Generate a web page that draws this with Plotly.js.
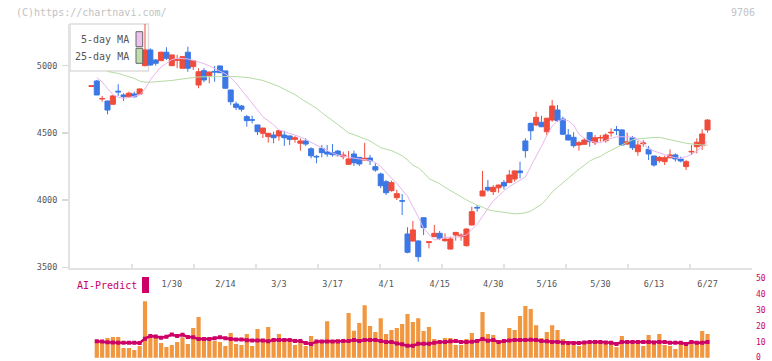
<!DOCTYPE html>
<html><head><meta charset="utf-8">
<script src="https://cdn.plot.ly/plotly-3.0.1.min.js"></script>
<style>html,body{margin:0;padding:0;background:#fff;}#c{width:772px;height:361px;}</style>
</head><body><div id="c"></div>
<script>
// ---- data ----
const openP = [4845,4886,4752,4737,4713,4810,4782,4769,4790,4789,5000,5117,5042,5037,5100,5000,5040,4981,5100,4993,
4856,4963,4926,4958,4998,4961,4819,4715,4700,4621,4598,4559,4497,4472,4484,4477,4484,4477,4452,4423,
4440,4382,4325,4385,4358,4353,4365,4323,4266,4343,4318,4298,4313,4249,4194,4137,4070,4018,3995,3748,
3696,3696,3869,3684,3728,3753,3698,3636,3740,3728,3661,3815,3946,4031,4095,4063,4092,4132,4130,4157,
4217,4440,4571,4559,4579,4509,4596,4670,4603,4484,4467,4410,4415,4502,4427,4462,4442,4500,4524,4522,
4417,4464,4360,4420,4378,4328,4293,4286,4315,4336,4306,4249,4358,4397,4405,4522];
const highP = [4850,4894,4775,4740,4782,4862,4795,4807,4807,4830,5400,5129,5050,5105,5137,5082,5080,5070,5141,5040,
4981,4981,4955,4998,5000,4963,4821,4732,4708,4633,4628,4560,4538,4500,4509,4522,4516,4480,4477,4460,
4460,4393,4336,4410,4410,4417,4373,4360,4365,4368,4320,4427,4336,4274,4204,4150,4145,4075,4045,3798,
3845,3700,3870,3695,3815,3770,3753,3728,3762,3753,3790,3951,3964,4217,4150,4112,4115,4150,4224,4220,
4286,4460,4575,4658,4628,4612,4745,4708,4621,4529,4505,4440,4460,4505,4484,4484,4497,4534,4551,4528,
4502,4477,4442,4447,4403,4330,4328,4330,4378,4348,4323,4298,4410,4460,4527,4600];
const lowP = [4845,4782,4732,4638,4710,4775,4737,4762,4762,4787,4995,5000,5000,5035,5042,4998,4981,4978,4955,4968,
4832,4877,4869,4881,4945,4830,4708,4670,4658,4546,4571,4484,4462,4427,4423,4442,4403,4410,4427,4368,
4403,4311,4274,4318,4323,4323,4323,4304,4266,4254,4254,4296,4261,4211,4088,4038,4063,4001,3889,3604,
3690,3542,3740,3641,3725,3703,3690,3633,3698,3698,3655,3812,3914,4029,4063,4038,4055,4080,4128,4137,
4162,4316,4447,4550,4542,4484,4583,4583,4488,4445,4390,4368,4413,4397,4410,4435,4427,4472,4484,4405,
4410,4373,4330,4397,4298,4249,4278,4261,4311,4286,4281,4224,4336,4348,4373,4502];
const closeP = [4850,4782,4756,4670,4775,4805,4769,4795,4769,4827,5117,5005,5018,5100,5055,5080,5044,5067,4981,5037,
4955,4894,4953,4953,4948,4832,4732,4690,4676,4591,4595,4509,4536,4497,4464,4516,4464,4452,4464,4440,
4417,4330,4322,4353,4343,4338,4336,4336,4306,4278,4269,4311,4293,4224,4107,4055,4130,4048,3993,3612,
3778,3579,3795,3690,3753,3716,3710,3711,3760,3740,3785,3914,3942,4068,4075,4095,4112,4105,4187,4217,
4204,4368,4516,4616,4546,4609,4700,4591,4490,4447,4405,4427,4447,4435,4464,4466,4484,4504,4520,4410,
4435,4390,4410,4425,4343,4261,4318,4315,4336,4306,4291,4286,4362,4430,4492,4596];
const ma5 = [null,4912,4880,4830,4785,4765,4757,4763,4770,4782,4825,4895,4945,4990,5018,5045,5055,5055,5050,5040,
5030,5015,4998,4980,4960,4940,4910,4870,4820,4769,4715,4670,4620,4590,4560,4522,4510,4497,4482,4470,
4450,4430,4405,4385,4365,4350,4336,4327,4318,4312,4306,4302,4296,4280,4250,4205,4165,4125,4075,4030,
3950,3877,3790,3750,3703,3710,3723,3724,3725,3732,3740,3780,3820,3880,3940,3995,4030,4070,4100,4125,
4150,4172,4250,4320,4400,4480,4550,4590,4600,4590,4559,4490,4460,4440,4430,4427,4445,4460,4470,4472,
4472,4468,4450,4423,4380,4365,4350,4338,4325,4315,4310,4323,4340,4365,4400,4435];
const ma25 = [null,null,null,4957,4950,4942,4930,4918,4905,4885,4878,4877,4879,4881,4884,4890,4896,4902,4908,4914,
4916,4917,4918,4920,4921,4921,4920,4918,4916,4913,4906,4899,4890,4876,4862,4845,4825,4807,4785,4757,
4733,4708,4683,4650,4622,4592,4562,4530,4500,4487,4472,4458,4440,4415,4390,4378,4368,4350,4330,4298,
4260,4240,4205,4160,4140,4122,4095,4070,4050,4025,4002,3980,3962,3948,3928,3920,3914,3906,3900,3898,
3900,3906,3918,3940,3968,4010,4060,4095,4130,4165,4195,4230,4260,4290,4310,4325,4350,4372,4393,4410,
4430,4448,4455,4460,4464,4466,4467,4458,4448,4438,4430,4423,4418,4412,4410,4410];
const volume = [null,11.1,10.1,12.4,13.0,13.0,6.1,6.1,4.8,7.3,35.6,13.6,12.6,9.2,6.7,8.0,9.9,12.8,8.6,18.7,
25.6,11.1,10.5,10.5,9.9,7.3,15.5,8.6,8.0,14.9,7.3,18.0,10.5,19.3,10.5,14.9,10.5,9.9,8.0,9.2,
7.3,13.6,9.9,11.1,23.0,11.1,11.7,11.1,28.1,17.0,21.8,33.1,19.9,16.1,24.9,14.9,17.4,18.7,21.2,27.5,
22.4,24.9,16.8,19.3,11.7,10.5,12.4,12.4,8.0,8.0,11.7,15.5,11.7,28.7,14.9,14.3,11.1,11.1,18.7,17.4,
26.2,32.5,30.6,20.5,12.4,16.1,20.5,17.4,11.7,8.6,8.6,7.3,8.6,8.6,11.1,10.5,8.6,8.6,6.7,13.6,
8.6,8.6,8.6,7.3,14.3,9.9,14.9,8.0,7.3,5.5,8.6,9.9,8.6,10.5,16.8,14.9];
const aiPredict = [null,10.3,10.2,9.7,9.5,9.4,9.4,9.4,9.4,9.2,12.0,13.6,13.4,12.6,13.2,14.6,13.6,14.5,13.0,12.8,
11.7,11.7,11.7,12.2,12.8,12.2,11.7,11.5,11.5,11.0,10.8,10.8,10.8,10.3,11.1,11.1,11.1,11.1,10.5,10.5,
9.2,8.6,10.2,10.2,10.2,10.2,10.2,10.5,10.5,11.1,10.5,11.1,11.1,11.1,10.5,9.9,9.9,9.0,8.4,7.5,
7.5,8.8,8.8,8.8,9.4,9.9,9.9,10.3,10.5,9.9,9.9,10.1,10.5,11.7,10.7,11.1,9.9,10.5,10.9,11.1,
11.1,11.1,11.3,11.1,10.5,10.3,9.9,9.9,9.4,9.2,9.2,9.2,9.6,9.9,9.9,9.9,9.6,9.4,8.6,9.9,
9.9,9.9,9.9,9.9,9.9,9.6,9.9,9.9,9.4,9.4,9.4,8.6,9.9,9.4,9.4,9.9];
const dateLabels = ['1/30','2/14','3/3','3/17','4/1','4/15','4/30','5/16','5/30','6/13','6/27'];
const dateLabelIdx = [15,25,35,45,55,65,75,85,95,105,115];
const priceTicks = [3500,4000,4500,5000];
const volTicks = [0,10,20,30,40,50];

// ---- layout helpers ----
const W = 772, H = 361;
const px = v => v / W;
const py = v => 1 - v / H;
const idx = openP.map((_, i) => i);
const MONO = 'DejaVu Sans Mono, monospace';
const RED = '#f04c3c', BLUE = '#3b78e6';

const traces = [
  {type:'scatter', mode:'lines', x: idx, y: ma25, xaxis:'x', yaxis:'y',
   line:{color:'#b5dba3', width:1}, hoverinfo:'skip', showlegend:false},
  {type:'scatter', mode:'lines', x: idx, y: ma5, xaxis:'x', yaxis:'y',
   line:{color:'#e8b6ec', width:1}, hoverinfo:'skip', showlegend:false},
  {type:'candlestick', x: idx, open: openP, high: highP, low: lowP, close: closeP,
   xaxis:'x', yaxis:'y', whiskerwidth:0,
   increasing:{line:{color:RED, width:1}, fillcolor:RED},
   decreasing:{line:{color:BLUE, width:1}, fillcolor:BLUE},
   hoverinfo:'skip', showlegend:false},
  {type:'bar', x: idx, y: volume, xaxis:'x', yaxis:'y3', width:0.78,
   marker:{color:'#f0973f'}, hoverinfo:'skip', showlegend:false},
  {type:'scatter', mode:'lines+markers', x: idx, y: aiPredict, xaxis:'x', yaxis:'y3',
   line:{color:'#cc0066', width:2.5}, marker:{symbol:'square', size:4, color:'#cc0066'},
   hoverinfo:'skip', showlegend:false},
  // invisible helpers so the tick/label axes are drawn
  {type:'scatter', mode:'none', x:[0, 11], y:[4000, 4000], xaxis:'x2', yaxis:'y', hoverinfo:'skip', showlegend:false},
  {type:'scatter', mode:'none', x:[0, 115], y:[4000, 4000], xaxis:'x3', yaxis:'y', hoverinfo:'skip', showlegend:false}
];

const layout = {
  width: W, height: H, margin:{l:0, r:0, t:0, b:0},
  paper_bgcolor:'#fff', plot_bgcolor:'rgba(0,0,0,0)', showlegend:false,
  boxgap: 0.06, boxgroupgap: 0,
  xaxis:{domain:[px(70), px(752)], range:[-4.0, 123.3], anchor:'y',
         rangeslider:{visible:false},
         showticklabels:false, ticks:'', showgrid:false, zeroline:false,
         showline:true, linecolor:'#e2e2e2', linewidth:2, fixedrange:true},
  xaxis2:{overlaying:'x', domain:[px(70), px(752)], range:[0, 11], anchor:'y',
          tickvals:[1,2,3,4,5,6,7,8,9,10,11], ticks:'inside', ticklen:4, tickwidth:2, tickcolor:'#e2e2e2',
          showticklabels:false, showgrid:false, zeroline:false, showline:false},
  xaxis3:{overlaying:'x', domain:[px(70), px(752)], range:[-4.0, 123.3], anchor:'y',
          tickvals: dateLabelIdx, ticktext: dateLabels, ticks:'', ticklabelstandoff:9,
          tickfont:{family:MONO, size:8.5, color:'#555'},
          showgrid:false, zeroline:false, showline:false},
  yaxis:{domain:[py(268), py(24)], range:[3495, 5310], anchor:'x',
         tickvals: priceTicks, ticks:'outside', ticklen:6, tickwidth:1.5, tickcolor:'#d8d8d8',
         ticklabelstandoff:3, tickfont:{family:MONO, size:8.5, color:'#555'},
         showgrid:false, zeroline:false, showline:true, linecolor:'#e2e2e2', linewidth:2},
  yaxis3:{domain:[py(358), py(278.3)], range:[-0.2, 50], anchor:'x', side:'right',
          tickvals: volTicks, ticks:'', ticklabelstandoff:3, ticklabeloverflow:'allow', ticklabelshift:2.5,
          tickfont:{family:MONO, size:8, color:'#cc0066'},
          showgrid:false, zeroline:false, showline:false},
  shapes:[
    {type:'rect', xref:'paper', yref:'paper', x0:px(70), x1:px(148.5), y0:py(71), y1:py(24),
     line:{color:'#dddddd', width:1.5}, fillcolor:'#ffffff', layer:'below'},
    {type:'rect', xref:'paper', yref:'paper', x0:px(136), x1:px(142.7), y0:py(46.7), y1:py(31.7),
     line:{color:'#666', width:1}, fillcolor:'#ecc2ee', layer:'above'},
    {type:'rect', xref:'paper', yref:'paper', x0:px(136), x1:px(142.7), y0:py(63.3), y1:py(48.3),
     line:{color:'#666', width:1}, fillcolor:'#bfe0ad', layer:'above'},
    {type:'rect', xref:'paper', yref:'paper', x0:px(142), x1:px(149), y0:py(293), y1:py(277),
     line:{width:0}, fillcolor:'#cc0066'}
  ],
  annotations:[
    {xref:'paper', yref:'paper', x:px(14), y:py(12), xanchor:'left', yanchor:'middle', showarrow:false,
     text:'(C)https://chartnavi.com/', font:{family:MONO, size:10, color:'#c2c2c2'}},
    {xref:'paper', yref:'paper', x:px(757), y:py(12), xanchor:'right', yanchor:'middle', showarrow:false,
     text:'9706', font:{family:MONO, size:10, color:'#c2c2c2'}},
    {xref:'paper', yref:'paper', x:px(131), y:py(39.5), xanchor:'right', yanchor:'middle', showarrow:false,
     text:'5-day MA', font:{family:MONO, size:10, color:'#555'}},
    {xref:'paper', yref:'paper', x:px(131), y:py(56.5), xanchor:'right', yanchor:'middle', showarrow:false,
     text:'25-day MA', font:{family:MONO, size:10, color:'#555'}},
    {xref:'paper', yref:'paper', x:px(75), y:py(285.5), xanchor:'left', yanchor:'middle', showarrow:false,
     text:'AI-Predict', font:{family:MONO, size:10, color:'#cc0066'}}
  ]
};

Plotly.newPlot('c', traces, layout, {staticPlot:true, displayModeBar:false});
</script>
</body></html>
